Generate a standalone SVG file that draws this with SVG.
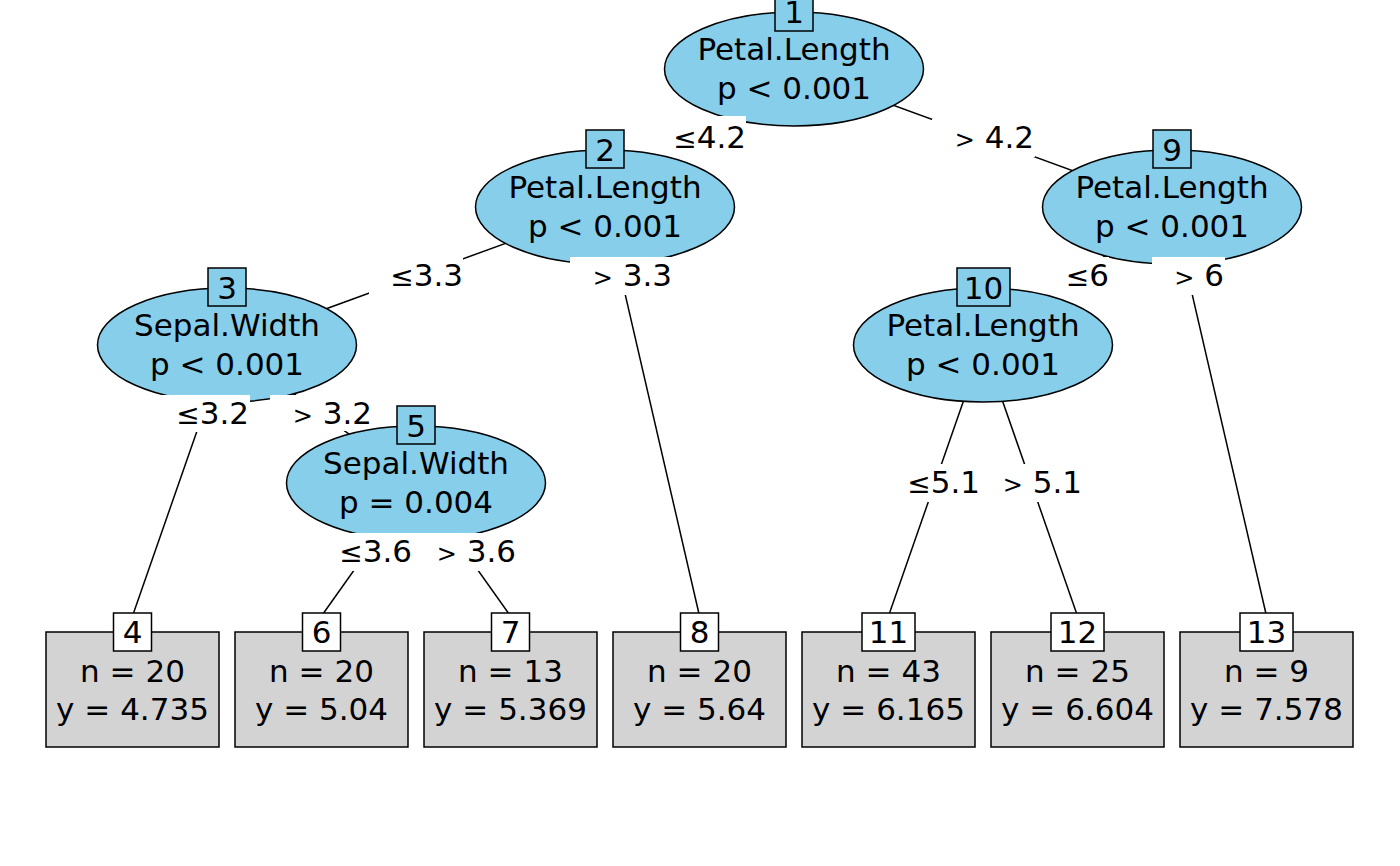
<svg xmlns="http://www.w3.org/2000/svg" width="1400" height="866" viewBox="0 0 1400 866">
<style>
text{font-family:"DejaVu Sans","Liberation Sans",sans-serif;font-size:31px;fill:#000}
.c{text-anchor:middle}
.e{text-anchor:end}
.inner ellipse{fill:#87CEEB;stroke:#000;stroke-width:1.5}
.id{stroke:#000;stroke-width:1.5}
.inner .id{fill:#87CEEB}
.leaf rect.box{fill:#D3D3D3;stroke:#000;stroke-width:1.5}
.leaf .id{fill:#fff}
.lbg{fill:#fff}
.sym{font-size:24px}
.le{font-size:28px}
#connectors line{stroke:#000;stroke-width:1.5}
</style>
<rect width="1400" height="866" fill="#fff"/>
<g id="connectors">
<line x1="794" y1="69" x2="605" y2="207"/>
<line x1="794" y1="69" x2="1172" y2="207"/>
<line x1="605" y1="207" x2="227" y2="345"/>
<line x1="605" y1="207" x2="699.5" y2="616"/>
<line x1="227" y1="345" x2="132.5" y2="616"/>
<line x1="227" y1="345" x2="416" y2="483"/>
<line x1="416" y1="483" x2="321.5" y2="616"/>
<line x1="416" y1="483" x2="510.5" y2="616"/>
<line x1="1172" y1="207" x2="983" y2="345"/>
<line x1="1172" y1="207" x2="1266.5" y2="616"/>
<line x1="983" y1="345" x2="888.5" y2="616"/>
<line x1="983" y1="345" x2="1077.5" y2="616"/>
</g>
<g id="node1" class="inner">
<ellipse cx="794" cy="69" rx="129.5" ry="57"/>
<text class="c" x="794" y="60">Petal.Length</text>
<text class="c" x="794" y="99">p &lt; 0.001</text>
<rect class="id" x="775" y="-7" width="38" height="38"/>
<text class="c" x="794" y="23">1</text>
</g>
<g id="edge-labels-1">
<rect class="lbg" x="653" y="116" width="93" height="42"/>
<text class="e" x="746" y="148"><tspan class="le">≤</tspan>4.2</text>
<rect class="lbg" x="932" y="119" width="103" height="38"/>
<text class="e" x="1034" y="148"><tspan class="sym">&gt;</tspan> 4.2</text>
</g>
<g id="node2" class="inner">
<ellipse cx="605" cy="207" rx="129.5" ry="57"/>
<text class="c" x="605" y="198">Petal.Length</text>
<text class="c" x="605" y="237">p &lt; 0.001</text>
<rect class="id" x="586" y="130" width="38" height="38"/>
<text class="c" x="605" y="161">2</text>
</g>
<g id="node9" class="inner">
<ellipse cx="1172" cy="207" rx="129.5" ry="57"/>
<text class="c" x="1172" y="198">Petal.Length</text>
<text class="c" x="1172" y="237">p &lt; 0.001</text>
<rect class="id" x="1153" y="130" width="38" height="38"/>
<text class="c" x="1172" y="161">9</text>
</g>
<g id="edge-labels-2-9">
<rect class="lbg" x="369" y="257" width="94" height="38"/>
<text class="e" x="463" y="286"><tspan class="le">≤</tspan>3.3</text>
<rect class="lbg" x="570" y="257" width="103" height="38"/>
<text class="e" x="672" y="286"><tspan class="sym">&gt;</tspan> 3.3</text>
<rect class="lbg" x="1044" y="257" width="65" height="40"/>
<text class="e" x="1109" y="286"><tspan class="le">≤</tspan>6</text>
<rect class="lbg" x="1152" y="257" width="73" height="38"/>
<text class="e" x="1224" y="286"><tspan class="sym">&gt;</tspan> 6</text>
</g>
<g id="node3" class="inner">
<ellipse cx="227" cy="345" rx="129.5" ry="57"/>
<text class="c" x="227" y="336">Sepal.Width</text>
<text class="c" x="227" y="375">p &lt; 0.001</text>
<rect class="id" x="208" y="268" width="38" height="38"/>
<text class="c" x="227" y="299">3</text>
</g>
<g id="node10" class="inner">
<ellipse cx="983" cy="345" rx="129.5" ry="57"/>
<text class="c" x="983" y="336">Petal.Length</text>
<text class="c" x="983" y="375">p &lt; 0.001</text>
<rect class="id" x="957" y="268" width="53" height="38"/>
<text class="c" x="983.5" y="299">10</text>
</g>
<g id="edge-labels-3-10">
<rect class="lbg" x="156" y="395" width="94" height="37"/>
<text class="e" x="249" y="424"><tspan class="le">≤</tspan>3.2</text>
<rect class="lbg" x="270" y="395" width="103" height="36"/>
<text class="e" x="372" y="424"><tspan class="sym">&gt;</tspan> 3.2</text>
<rect class="lbg" x="887" y="464" width="94" height="38"/>
<text class="e" x="980" y="493"><tspan class="le">≤</tspan>5.1</text>
<rect class="lbg" x="981" y="464" width="102" height="38"/>
<text class="e" x="1082" y="493"><tspan class="sym">&gt;</tspan> 5.1</text>
</g>
<g id="node5" class="inner">
<ellipse cx="416" cy="483" rx="129.5" ry="57"/>
<text class="c" x="416" y="474">Sepal.Width</text>
<text class="c" x="416" y="513">p = 0.004</text>
<rect class="id" x="397" y="406" width="38" height="38"/>
<text class="c" x="416" y="437">5</text>
</g>
<g id="edge-labels-5">
<rect class="lbg" x="319" y="533" width="96" height="38"/>
<text class="e" x="412" y="562"><tspan class="le">≤</tspan>3.6</text>
<rect class="lbg" x="415" y="533" width="102" height="38"/>
<text class="e" x="516" y="562"><tspan class="sym">&gt;</tspan> 3.6</text>
</g>
<g id="node4" class="leaf">
<rect class="box" x="46" y="632" width="173" height="115"/>
<text class="c" x="132.5" y="681.5">n = 20</text>
<text class="c" x="132.5" y="720">y = 4.735</text>
<rect class="id" x="113.5" y="613" width="38" height="38"/>
<text class="c" x="132.5" y="643">4</text>
</g>
<g id="node6" class="leaf">
<rect class="box" x="235" y="632" width="173" height="115"/>
<text class="c" x="321.5" y="681.5">n = 20</text>
<text class="c" x="321.5" y="720">y = 5.04</text>
<rect class="id" x="302.5" y="613" width="38" height="38"/>
<text class="c" x="321.5" y="643">6</text>
</g>
<g id="node7" class="leaf">
<rect class="box" x="424" y="632" width="173" height="115"/>
<text class="c" x="510.5" y="681.5">n = 13</text>
<text class="c" x="510.5" y="720">y = 5.369</text>
<rect class="id" x="491.5" y="613" width="38" height="38"/>
<text class="c" x="510.5" y="643">7</text>
</g>
<g id="node8" class="leaf">
<rect class="box" x="613" y="632" width="173" height="115"/>
<text class="c" x="699.5" y="681.5">n = 20</text>
<text class="c" x="699.5" y="720">y = 5.64</text>
<rect class="id" x="680.5" y="613" width="38" height="38"/>
<text class="c" x="699.5" y="643">8</text>
</g>
<g id="node11" class="leaf">
<rect class="box" x="802" y="632" width="173" height="115"/>
<text class="c" x="888.5" y="681.5">n = 43</text>
<text class="c" x="888.5" y="720">y = 6.165</text>
<rect class="id" x="862" y="613" width="53" height="38"/>
<text class="c" x="888.5" y="643">11</text>
</g>
<g id="node12" class="leaf">
<rect class="box" x="991" y="632" width="173" height="115"/>
<text class="c" x="1077.5" y="681.5">n = 25</text>
<text class="c" x="1077.5" y="720">y = 6.604</text>
<rect class="id" x="1051" y="613" width="53" height="38"/>
<text class="c" x="1077.5" y="643">12</text>
</g>
<g id="node13" class="leaf">
<rect class="box" x="1180" y="632" width="173" height="115"/>
<text class="c" x="1266.5" y="681.5">n = 9</text>
<text class="c" x="1266.5" y="720">y = 7.578</text>
<rect class="id" x="1240" y="613" width="53" height="38"/>
<text class="c" x="1266.5" y="643">13</text>
</g>
</svg>
